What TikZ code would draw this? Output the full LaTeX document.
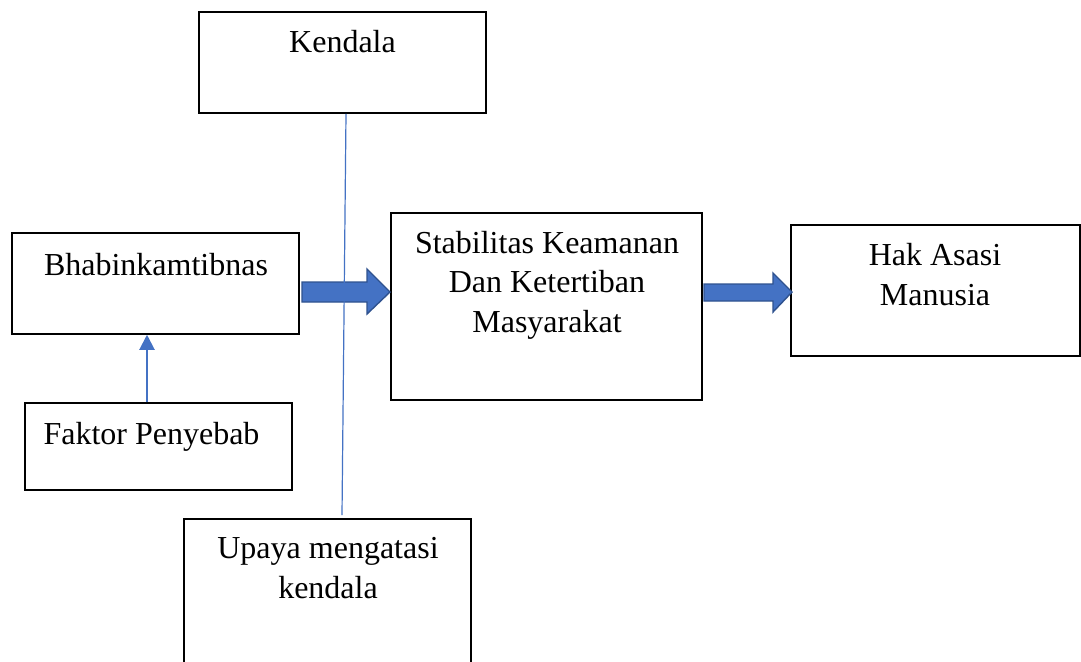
\documentclass[tikz,border=0pt]{standalone}
\usepackage{fontspec}
\setmainfont{Liberation Serif}
\usetikzlibrary{fit,arrows.meta}
\definecolor{ablue}{HTML}{4472C4}
\definecolor{dblue}{HTML}{2F528F}
\tikzset{
  box/.style={draw=black, line width=0.75pt, inner sep=0pt, rectangle},
  txt/.style={inner sep=0pt, anchor=base, align=center, font=\fontsize{16}{19.65}\selectfont},
  blockarrow/.style={fill=ablue, draw=dblue, line width=0.7pt, line join=miter},
  thinline/.style={draw=ablue, line width=0.6pt},
  uparrow/.style={draw=ablue, line width=1pt, -{Triangle[width=7.5pt,length=7.5pt]}}
}
\begin{document}
\begin{tikzpicture}[x=0.5pt,y=-0.5pt]
\clip (0,0) rectangle (1081,661);
\fill[white] (0,0) rectangle (1081,661);
% boxes
\node[box, fit={(199,12) (486,113)}] (kendala) {};
\node[box, fit={(12,233) (299,334)}] (bh) {};
\node[box, fit={(25,403) (292,490)}] (fp) {};
\node[box, fit={(184,519) (471,700)}] (up) {};
\node[box, fit={(391,213) (702,400)}] (skk) {};
\node[box, fit={(791,225) (1080,356)}] (ham) {};
% texts (base = baseline of last line)
\node[txt] (tk) at (342.5,52) {Kendala};
\node[txt] (tbh) at (156,275) {Bhabinkamtibnas};
\node[txt] (tfp) at (151.5,444) {Faktor Penyebab};
\node[txt] (tup) at (328,598) {Upaya mengatasi\\kendala};
\node[txt] (tskk) at (547,332) {Stabilitas Keamanan\\Dan Ketertiban\\Masyarakat};
\node[txt] (tham) at (935,305) {Hak Asasi\\Manusia};
% block arrows
\draw[blockarrow] (302,282) -- (367,282) -- (367,269) -- (390,292) -- (367,314) -- (367,302) -- (302,302) -- cycle;
\draw[blockarrow] (704,284) -- (773,284) -- (773,273) -- (792,292) -- (773,312) -- (773,301) -- (704,301) -- cycle;
% thin line
\coordinate (lend) at (342,515);
\draw[thinline] ([xshift=1.75pt]kendala.south) -- (lend);
% small arrow
\draw[uparrow] (fp.north -| 147,0) -- (bh.south -| 147,0) ;
\end{tikzpicture}
\end{document}
